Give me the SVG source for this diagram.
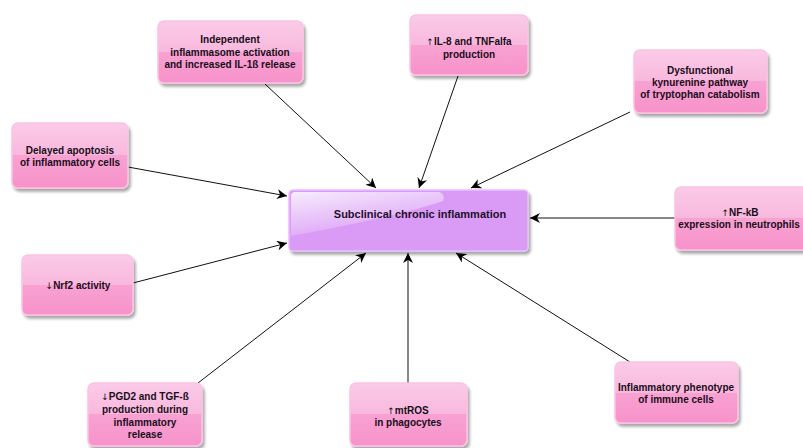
<svg xmlns="http://www.w3.org/2000/svg" width="803" height="448" viewBox="0 0 803 448">
<defs>
<linearGradient id="pink" x1="0" y1="0" x2="0" y2="1">
<stop offset="0" stop-color="#fbcbe8"/>
<stop offset="0.5" stop-color="#f8b8dd"/>
<stop offset="0.5" stop-color="#f8a2d2"/>
<stop offset="1" stop-color="#f792ca"/>
</linearGradient>
<linearGradient id="gloss" x1="0" y1="0" x2="0.5" y2="1">
<stop offset="0" stop-color="#ffffff" stop-opacity="0.8"/>
<stop offset="1" stop-color="#ffffff" stop-opacity="0.05"/>
</linearGradient>
<filter id="sh" x="-10%" y="-10%" width="130%" height="140%">
<feGaussianBlur in="SourceAlpha" stdDeviation="1.5"/>
<feOffset dx="2" dy="3"/>
<feComponentTransfer><feFuncA type="linear" slope="0.35"/></feComponentTransfer>
<feMerge><feMergeNode/><feMergeNode in="SourceGraphic"/></feMerge>
</filter>
<marker id="arr" viewBox="0 0 10 10" refX="10" refY="5" markerWidth="10" markerHeight="10" markerUnits="userSpaceOnUse" orient="auto">
<path d="M0,0 L10,5 L0,10 L3,5 Z" fill="#000"/>
</marker>
</defs>
<style>
.n{fill:url(#pink);stroke:#fbc2e3;stroke-width:1.5;filter:url(#sh)}
.c{fill:#d99bf6;stroke:#e8bffb;stroke-width:1.5;filter:url(#sh)}
text{font-family:"Liberation Sans","DejaVu Sans",Arial,sans-serif;font-weight:bold;font-size:10px;fill:#1a0d1a;text-anchor:middle}
.a{font-family:"DejaVu Sans",sans-serif;font-weight:normal;font-size:9px}
.ct{font-size:11px;fill:#1e0f2a}
.e line{stroke:#111;stroke-width:1;marker-end:url(#arr)}
</style>
<rect width="803" height="448" fill="#fff"/>
<g class="e" id="connectors">
<line x1="265" y1="84" x2="376" y2="188"/>
<line x1="458" y1="76" x2="419" y2="188"/>
<line x1="630" y1="112" x2="471" y2="188"/>
<line x1="128" y1="167" x2="287" y2="196"/>
<line x1="675" y1="218" x2="530" y2="218"/>
<line x1="133" y1="283" x2="287" y2="243"/>
<line x1="198" y1="383" x2="366" y2="253"/>
<line x1="408" y1="383" x2="408" y2="253"/>
<line x1="630" y1="362" x2="456" y2="253"/>
</g>
<g id="center">
<rect class="c" x="289" y="190" width="239" height="61" rx="4"/>
<path d="M291,196 a4,4 0 0 1 4,-4 H439 a6,6 0 0 1 4,9 C405,214 345,226 291,236 Z" fill="url(#gloss)"/>
<text class="ct" x="420" y="218">Subclinical chronic inflammation</text>
</g>
<g id="n1">
<rect class="n" x="158" y="21" width="145" height="62" rx="6"/>
<text x="230" y="43">Independent</text>
<text x="230" y="56">inflammasome activation</text>
<text x="230" y="68">and increased IL-1ß release</text>
</g>
<g id="n2">
<rect class="n" x="410" y="15" width="118" height="60" rx="6"/>
<text x="469" y="45"><tspan class="a">↑</tspan>IL-8 and TNFalfa</text>
<text x="469" y="58">production</text>
</g>
<g id="n3">
<rect class="n" x="634" y="50" width="133" height="63" rx="6"/>
<text x="700" y="74">Dysfunctional</text>
<text x="700" y="86">kynurenine pathway</text>
<text x="700" y="98">of tryptophan catabolism</text>
</g>
<g id="n4">
<rect class="n" x="12" y="123" width="116" height="65" rx="6"/>
<text x="70" y="154">Delayed apoptosis</text>
<text x="70" y="166">of inflammatory cells</text>
</g>
<g id="n5">
<rect class="n" x="675" y="187" width="140" height="63" rx="6"/>
<text x="740" y="216"><tspan class="a">↑</tspan>NF-kB</text>
<text x="739" y="228">expression in neutrophils</text>
</g>
<g id="n6">
<rect class="n" x="22" y="255" width="111" height="60" rx="6"/>
<text x="78" y="289"><tspan class="a">↓</tspan>Nrf2 activity</text>
</g>
<g id="n7">
<rect class="n" x="88" y="383" width="114" height="63" rx="6"/>
<text x="145" y="400"><tspan class="a">↓</tspan>PGD2 and TGF-ß</text>
<text x="145" y="413">production during</text>
<text x="145" y="426">inflammatory</text>
<text x="145" y="438">release</text>
</g>
<g id="n8">
<rect class="n" x="350" y="383" width="117" height="63" rx="6"/>
<text x="408" y="414"><tspan class="a">↑</tspan>mtROS</text>
<text x="408" y="426">in phagocytes</text>
</g>
<g id="n9">
<rect class="n" x="615" y="362" width="123" height="61" rx="6"/>
<text x="676" y="391">Inflammatory phenotype</text>
<text x="676" y="403">of immune cells</text>
</g>
</svg>
